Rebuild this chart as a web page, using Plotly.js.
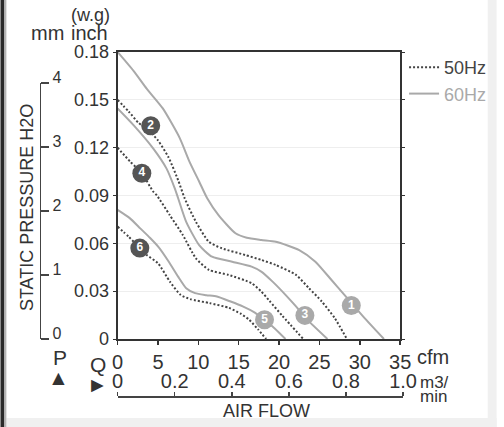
<!DOCTYPE html>
<html>
<head>
<meta charset="utf-8">
<script src="https://cdn.plot.ly/plotly-3.0.1.min.js"></script>
<style>
html,body{margin:0;padding:0;background:#ffffff;}
#chart{width:504px;height:427px;}
</style>
</head>
<body>
<div id="chart"></div>
<script>
// ---- data (air flow in cfm, static pressure in inch H2O) ----
const fan1Cfm  = [0, 2, 3.6, 5.6, 7.7, 8.9, 10.1, 11.1, 12.5, 14.6, 16, 17.8, 19.6, 22.5, 24.5, 26.5, 28.1, 29.5, 30.6, 33.0];
const fan1Inch = [0.18, 0.168, 0.157, 0.1446, 0.126, 0.1113, 0.0988, 0.0883, 0.0777, 0.0663, 0.0635, 0.0621, 0.061, 0.0558, 0.0485, 0.037, 0.0277, 0.0195, 0.0131, 0];

const fan2Cfm  = [0, 1.4, 2.6, 3.9, 5.0, 6.3, 7.5, 8.3, 9.7, 11.3, 12.9, 15.8, 17.8, 19.6, 22.1, 23.7, 25.3, 26.9, 28.4];
const fan2Inch = [0.15, 0.1425, 0.1355, 0.1305, 0.1246, 0.114, 0.0996, 0.0883, 0.0735, 0.061, 0.0569, 0.0527, 0.0496, 0.0464, 0.0402, 0.0319, 0.0235, 0.0131, 0];

const fan3Cfm  = [0, 2.0, 4.4, 6.05, 7.07, 7.5, 8.5, 10.1, 11.7, 14.2, 16.6, 17.8, 19.2, 20.8, 22.1, 23.3, 26.0];
const fan3Inch = [0.1446, 0.134, 0.1196, 0.107, 0.0946, 0.0883, 0.0735, 0.0589, 0.0516, 0.0485, 0.0454, 0.0423, 0.036, 0.0277, 0.0204, 0.0131, 0];

const fan4Cfm  = [0, 1.6, 3.0, 4.4, 4.84, 6.46, 8.08, 9.7, 11.33, 13.76, 16.6, 17.8, 18.8, 20.4, 23.0];
const fan4Inch = [0.12, 0.111, 0.104, 0.0925, 0.0902, 0.0777, 0.0652, 0.0506, 0.0433, 0.0402, 0.035, 0.0298, 0.024, 0.0146, 0];

const fan5Cfm  = [0, 1.5, 2.8, 4.0, 5.1, 6.3, 7.5, 8.5, 9.6, 11.0, 12.3, 14.0, 15.5, 17.0, 18.2, 19.5, 20.8];
const fan5Inch = [0.081, 0.0758, 0.0694, 0.0635, 0.0575, 0.0488, 0.0391, 0.0319, 0.0288, 0.0275, 0.0266, 0.0235, 0.0205, 0.0166, 0.0121, 0.0065, 0];

const fan6Cfm  = [0, 1.4, 2.8, 3.6, 5.0, 6.5, 7.8, 9.0, 11.4, 13.8, 15.2, 16.3, 17.4, 18.4];
const fan6Inch = [0.0705, 0.064, 0.0569, 0.0527, 0.0475, 0.0358, 0.0277, 0.025, 0.0225, 0.0195, 0.016, 0.0121, 0.006, 0];

// numbered curve markers
const markerText = ['1', '2', '3', '4', '5', '6'];
const markerCfm  = [28.95, 4.1, 23.2, 3.0, 18.2, 2.75];
const markerInch = [0.021, 0.1338, 0.0148, 0.104, 0.0121, 0.057];

// tick labels
const cfmTicks   = [0, 5, 10, 15, 20, 25, 30, 35];
const inchTicks  = [0, 0.03, 0.06, 0.09, 0.12, 0.15, 0.18];
const inchLabels = ['0', '0.03', '0.06', '0.09', '0.12', '0.15', '0.18'];
const mmTicks    = [0, 1, 2, 3, 4];
const m3Ticks    = [0, 0.2, 0.4, 0.6, 0.8, 1.0];
const m3Labels   = ['0', '0.2', '0.4', '0.6', '0.8', '1.0'];
const legend50 = '50Hz';
const legend60 = '60Hz';

// ---- styling / layout ----
const FONT = 'Liberation Sans, Arial, Helvetica, sans-serif';
const DARK = '#444444';
const LIGHT = '#a9a9a9';
const AX = '#333333';

const W = 504, H = 427, ML = 30, MR = 90, MT = 52, MB = 20;
const PW = W - ML - MR, PH = H - MT - MB;
const px = x => (x - ML) / PW;
const py = y => (H - MB - y) / PH;

function solid(x, y, show) {
  return {x: x, y: y, type: 'scatter', mode: 'lines',
    line: {color: LIGHT, width: 2, shape: 'spline', smoothing: 0.6},
    name: '<span style="color:' + LIGHT + '">' + legend60 + '</span>',
    legendgroup: 'g60', legendrank: 2, showlegend: show, hoverinfo: 'skip'};
}
function dotted(x, y, show) {
  return {x: x, y: y, type: 'scatter', mode: 'lines',
    line: {color: DARK, width: 2, dash: '2px,2px', shape: 'spline', smoothing: 0.6},
    name: legend50, legendgroup: 'g50', legendrank: 1, showlegend: show, hoverinfo: 'skip'};
}

const markerColors = markerText.map((t, i) => (i % 2 === 0 ? LIGHT : '#555555'));

const data = [
  solid(fan1Cfm, fan1Inch, true),
  dotted(fan2Cfm, fan2Inch, true),
  solid(fan3Cfm, fan3Inch, false),
  dotted(fan4Cfm, fan4Inch, false),
  solid(fan5Cfm, fan5Inch, false),
  dotted(fan6Cfm, fan6Inch, false),
  {x: markerCfm, y: markerInch, text: markerText, type: 'scatter', mode: 'markers+text',
    marker: {size: 19, color: markerColors, line: {width: 0}},
    textposition: 'middle center',
    textfont: {family: FONT, size: 12, color: '#ffffff', weight: 'bold'},
    showlegend: false, hoverinfo: 'skip', cliponaxis: false},
  // helper so the secondary (mm / m3/min) scales exist as their own subplot
  {x: [], y: [], xaxis: 'x2', yaxis: 'y2', type: 'scatter', mode: 'lines', showlegend: false, hoverinfo: 'skip'}
];

const ann = (text, x, y, size, opts) => Object.assign({
  text: text, x: px(x), y: py(y), xref: 'paper', yref: 'paper', showarrow: false,
  xanchor: 'center', yanchor: 'middle', font: {family: FONT, size: size, color: AX}
}, opts || {});

const layout = {
  width: W, height: H,
  margin: {l: ML, r: MR, t: MT, b: MB, pad: 0},
  paper_bgcolor: '#ffffff', plot_bgcolor: 'rgba(0,0,0,0)',
  font: {family: FONT, color: AX},
  showlegend: true,
  legend: {x: px(410), y: py(49), xanchor: 'left', yanchor: 'top', bgcolor: 'rgba(0,0,0,0)',
    font: {family: FONT, size: 18, color: DARK}, itemwidth: 30, tracegroupgap: 3, traceorder: 'normal'},
  xaxis: {domain: [px(119), px(406)], range: [0, 35], tickvals: cfmTicks, showgrid: false, zeroline: false,
    showline: true, linecolor: AX, linewidth: 2, mirror: true,
    ticks: 'outside', ticklen: 4, tickwidth: 1.5, tickcolor: AX,
    tickfont: {family: FONT, size: 20, color: AX}, anchor: 'y', fixedrange: true},
  yaxis: {domain: [py(339), 1], range: [0, 0.18], tickvals: inchTicks, ticktext: inchLabels,
    showgrid: true, gridcolor: '#eeeeee', gridwidth: 1, zeroline: false,
    showline: true, linecolor: AX, linewidth: 2, mirror: 'ticks',
    ticks: 'outside', ticklen: 3, tickwidth: 1, tickcolor: AX,
    tickfont: {family: FONT, size: 18, color: AX}, anchor: 'x', fixedrange: true},
  xaxis2: {domain: [px(119), px(409)], range: [0, 1.0], tickvals: m3Ticks, ticktext: m3Labels,
    anchor: 'free', position: py(396), side: 'top', showgrid: false, zeroline: false,
    showline: true, linecolor: DARK, linewidth: 1.5,
    ticks: 'outside', ticklen: 4, tickwidth: 1.5, tickcolor: DARK, ticklabelstandoff: -4,
    tickfont: {family: FONT, size: 20, color: AX}, fixedrange: true},
  yaxis2: {domain: [py(339), py(83)], range: [0, 4], tickvals: mmTicks,
    anchor: 'free', position: px(40), side: 'right', showgrid: false, zeroline: false,
    showline: true, linecolor: DARK, linewidth: 1.5,
    ticks: 'outside', ticklen: 8, tickwidth: 1.5, tickcolor: DARK, ticklabelshift: -6,
    tickfont: {family: FONT, size: 16, color: AX}, fixedrange: true},
  annotations: [
    ann('(w.g)', 91, 15, 18),
    ann('mm', 48, 33, 20),
    ann('inch', 90, 33, 20),
    ann('STATIC PRESSURE H2O', 27, 208, 18, {textangle: -90}),
    ann('cfm', 421, 357, 20, {xanchor: 'left'}),
    ann('m3/', 424, 382, 17, {xanchor: 'left'}),
    ann('min', 424, 396, 17, {xanchor: 'left'}),
    ann('AIR FLOW', 270, 411, 18),
    ann('P', 60, 357, 21),
    ann('\u25B2', 59, 377, 21),
    ann('Q', 99, 364, 21),
    ann('\u25BA', 99, 384, 21)
  ],
  shapes: [
    {type: 'rect', xref: 'paper', yref: 'paper', x0: px(0), x1: px(4), y0: py(427), y1: py(0),
      fillcolor: '#2a2a2a', line: {width: 0}, layer: 'above'},
    {type: 'rect', xref: 'paper', yref: 'paper', x0: px(4), x1: px(6), y0: py(427), y1: py(0),
      fillcolor: '#b5b5b5', line: {width: 0}, layer: 'above'},
    {type: 'rect', xref: 'paper', yref: 'paper', x0: px(495), x1: px(504), y0: py(427), y1: py(0),
      fillcolor: '#f0f0f0', line: {width: 0}, layer: 'below'},
    {type: 'rect', xref: 'paper', yref: 'paper', x0: px(6), x1: px(504), y0: py(427), y1: py(418),
      fillcolor: '#f0f0f0', line: {width: 0}, layer: 'below'}
  ]
};

Plotly.newPlot('chart', data, layout, {displayModeBar: false, staticPlot: true});
</script>
</body>
</html>
